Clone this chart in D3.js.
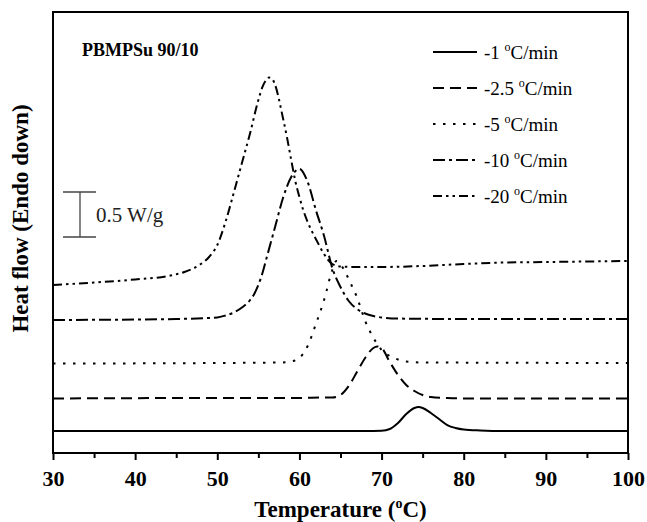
<!DOCTYPE html>
<html>
<head>
<meta charset="utf-8">
<script src="https://cdn.jsdelivr.net/npm/d3@7"></script>
<style>
  body { margin: 0; background: #fff; }
  text { font-family: "Liberation Serif", "Times New Roman", serif; }
</style>
</head>
<body>
<script>
// Data (temperature in °C, heat flow in W/g with vertical offsets)
const rates = ["-1", "-2.5", "-5", "-10", "-20"]
const temp1 = [30, 50, 68, 70, 71, 72, 73, 74, 74.5, 75, 76, 77, 78, 79, 80, 82, 85, 100]
const flow1 = [0.244, 0.244, 0.244, 0.247, 0.267, 0.333, 0.433, 0.5, 0.511, 0.5, 0.444, 0.378, 0.311, 0.278, 0.261, 0.25, 0.244, 0.244]
const temp25 = [30, 50, 60, 63, 64, 65, 66, 67, 68, 69, 69.5, 70, 71, 72, 73, 74, 75, 76, 78, 80, 100]
const flow25 = [0.606, 0.611, 0.611, 0.617, 0.617, 0.644, 0.744, 0.9, 1.056, 1.167, 1.183, 1.167, 1.011, 0.867, 0.756, 0.689, 0.644, 0.622, 0.611, 0.606, 0.606]
const temp5 = [30, 50, 58, 59, 60, 61, 62, 63, 64, 64.5, 65, 65.5, 66, 66.5, 67, 67.5, 68, 68.5, 69, 69.5, 70, 71, 72, 73, 75, 100]
const flow5 = [0.994, 1.0, 1.006, 1.017, 1.056, 1.189, 1.433, 1.7, 2.033, 2.133, 2.1, 2.022, 1.933, 1.833, 1.733, 1.6, 1.467, 1.367, 1.278, 1.211, 1.144, 1.078, 1.039, 1.017, 1.006, 1.0]
const temp10 = [30, 40, 45, 50, 51, 52, 53, 54, 54.5, 55, 55.5, 56, 57, 58, 59, 60, 61, 62, 63, 64, 65, 66, 67, 68, 69, 70, 72, 80, 100]
const flow10 = [1.478, 1.483, 1.489, 1.506, 1.528, 1.56, 1.617, 1.7, 1.767, 1.867, 2.0, 2.167, 2.5, 2.833, 3.067, 3.156, 3.011, 2.7, 2.411, 2.056, 1.844, 1.689, 1.6, 1.55, 1.522, 1.506, 1.494, 1.489, 1.489]
const temp20 = [30, 35, 40, 44, 46, 48, 49, 50, 51, 52, 53, 54, 55, 55.5, 56, 56.3, 56.7, 57, 58, 58.5, 59, 59.5, 60, 60.5, 61, 62, 63, 63.5, 64, 65, 67, 70, 75, 80, 85, 90, 95, 100]
const flow20 = [1.867, 1.894, 1.928, 1.967, 2.011, 2.1, 2.178, 2.311, 2.567, 2.889, 3.222, 3.556, 3.922, 4.067, 4.15, 4.172, 4.156, 4.1, 3.72, 3.5, 3.256, 3.022, 2.844, 2.689, 2.567, 2.378, 2.211, 2.144, 2.1, 2.072, 2.067, 2.067, 2.078, 2.1, 2.117, 2.122, 2.128, 2.133]
const xTicks = [30, 40, 50, 60, 70, 80, 90, 100]

const series = [
    { rate: rates[0], t: temp1, f: flow1, dash: null },
    { rate: rates[1], t: temp25, f: flow25, dash: "11,6" },
    { rate: rates[2], t: temp5, f: flow5, dash: "2.5,7.5" },
    { rate: rates[3], t: temp10, f: flow10, dash: "12,4,3,4" },
    { rate: rates[4], t: temp20, f: flow20, dash: "9,4,2.5,4,2.5,4" },
]

// SVG parameters
const width = 647
const height = 522
const pLeft = 53, pRight = 628, pTop = 12, pBottom = 453

const svg = d3.select("body").append("svg")
    .attr("width", width)
    .attr("height", height)

const xScale = d3.scaleLinear().domain([30, 100]).range([pLeft, pRight])
const yScale = d3.scaleLinear().domain([0, (pBottom - pTop) / 90]).range([pBottom, pTop])

// Curves
const line = d3.line()
    .x(d => xScale(d[0]))
    .y(d => yScale(d[1]))
    .curve(d3.curveMonotoneX)

svg.selectAll(".curve")
    .data(series).enter().append("path")
    .attr("class", "curve")
    .attr("d", s => line(s.t.map((t, i) => [t, s.f[i]])))
    .attr("fill", "none")
    .attr("stroke", "#000")
    .attr("stroke-width", 2)
    .attr("stroke-dasharray", s => s.dash)

// Frame
svg.append("rect")
    .attr("x", pLeft).attr("y", pTop)
    .attr("width", pRight - pLeft).attr("height", pBottom - pTop)
    .attr("fill", "none").attr("stroke", "#000").attr("stroke-width", 2)

// Bottom axis
const xAxis = svg.append("g")
    .attr("transform", `translate(0, ${pBottom})`)
    .call(d3.axisBottom(xScale).tickValues(d3.range(35, 100, 10)).tickSize(5).tickFormat(""))
xAxis.select(".domain").remove()
xAxis.selectAll("line").attr("stroke-width", 2)

const xAxisMajor = svg.append("g")
    .attr("transform", `translate(0, ${pBottom})`)
    .call(d3.axisBottom(xScale).tickValues(xTicks).tickSize(7).tickPadding(10))
xAxisMajor.select(".domain").remove()
xAxisMajor.selectAll("line").attr("stroke-width", 2)
xAxisMajor.selectAll("text")
    .style("font-family", "Liberation Serif")
    .style("font-size", "22px")
    .style("font-weight", "bold")
    .attr("fill", "#000")

// Axis titles
const xTitle = svg.append("text")
    .attr("x", (pLeft + pRight) / 2)
    .attr("y", 517)
    .attr("text-anchor", "middle")
    .style("font-size", "23px")
    .style("font-weight", "bold")
xTitle.append("tspan").text("Temperature (")
xTitle.append("tspan").attr("dy", -9).style("font-size", "14px").text("o")
xTitle.append("tspan").attr("dy", 9).text("C)")

svg.append("text")
    .attr("transform", `translate(28, ${(pTop + pBottom) / 2 - 14}) rotate(-90)`)
    .attr("text-anchor", "middle")
    .style("font-size", "23px")
    .style("font-weight", "bold")
    .text("Heat flow (Endo down)")

// Sample label
svg.append("text")
    .attr("x", 82).attr("y", 56)
    .style("font-size", "18px")
    .style("font-weight", "bold")
    .text("PBMPSu 90/10")

// Scale bar (0.5 W/g)
const barX = 80, barTop = yScale(2.9), barBot = yScale(2.4)
const bar = svg.append("g").attr("stroke", "#444").attr("stroke-width", 1.3)
bar.append("line").attr("x1", 63).attr("x2", 96).attr("y1", barTop).attr("y2", barTop)
bar.append("line").attr("x1", 63).attr("x2", 96).attr("y1", barBot).attr("y2", barBot)
bar.append("line").attr("x1", barX).attr("x2", barX).attr("y1", barTop).attr("y2", barBot)
svg.append("text")
    .attr("x", 96).attr("y", (barTop + barBot) / 2 + 7)
    .style("font-size", "21px")
    .attr("fill", "#222")
    .text("0.5 W/g")

// Legend
const legend = svg.selectAll(".legend")
    .data(series).enter().append("g")
    .attr("class", "legend")
    .attr("transform", (d, i) => `translate(433, ${52 + i * 36})`)
legend.append("line")
    .attr("x1", 0).attr("x2", 44)
    .attr("stroke", "#000").attr("stroke-width", 2)
    .attr("stroke-dasharray", d => d.dash)
const lt = legend.append("text")
    .attr("x", 51).attr("y", 7)
    .style("font-size", "19px")
lt.append("tspan").text(d => d.rate + " ")
lt.append("tspan").attr("dy", -8).style("font-size", "12px").text("o")
lt.append("tspan").attr("dy", 8).text("C/min")
</script>
</body>
</html>
